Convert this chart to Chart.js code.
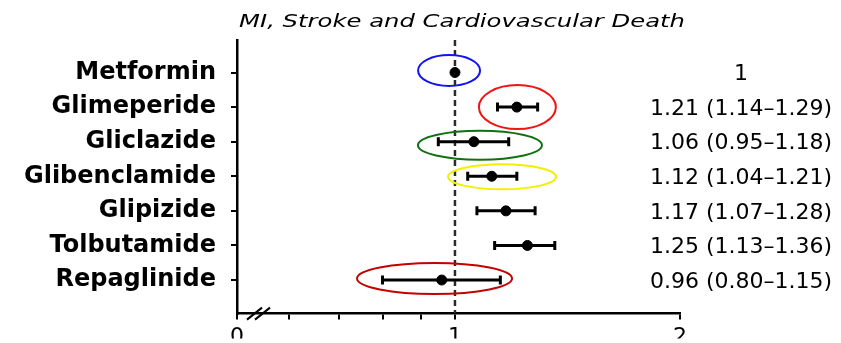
<!DOCTYPE html>
<html>
<head>
<meta charset="utf-8">
<script src="https://cdn.jsdelivr.net/npm/chart.js@4.4.1/dist/chart.umd.min.js"></script>
<style>
  html, body { margin: 0; padding: 0; background: #fff; overflow: hidden; }
</style>
</head>
<body>
<canvas id="myChart" width="841" height="343"></canvas>
<script>
// data
const drugs = ['Metformin', 'Glimeperide', 'Gliclazide', 'Glibenclamide', 'Glipizide', 'Tolbutamide', 'Repaglinide'];
const hazardRatio = [1, 1.21, 1.06, 1.12, 1.17, 1.25, 0.96];
const ciLow = [null, 1.14, 0.95, 1.04, 1.07, 1.13, 0.80];
const ciHigh = [null, 1.29, 1.18, 1.21, 1.28, 1.36, 1.15];
const effectLabels = ['1', '1.21 (1.14–1.29)', '1.06 (0.95–1.18)', '1.12 (1.04–1.21)', '1.17 (1.07–1.28)', '1.25 (1.13–1.36)', '0.96 (0.80–1.15)'];
const xTickValues = [0.511, 0.6, 0.7, 0.8, 0.9, 1, 2];
const xTickLabels = ['0', '', '', '', '', '1', '2'];
const refValue = 1;
const titleText = 'MI, Stroke and Cardiovascular Death';

// coloured rings drawn round some of the rows
const rings = [
    {row: 0, at: 0.982, dy: -2, rx: 31, ry: 15.5, color: '#1414f0'},
    {row: 1, at: 1.212, dy: 0, rx: 38.5, ry: 22, color: '#f01414'},
    {row: 2, at: 1.080, dy: 3.5, rx: 62, ry: 14.5, color: '#127012'},
    {row: 3, at: 1.156, dy: 0.5, rx: 54, ry: 12.5, color: '#f2f000'},
    {row: 6, at: 0.939, dy: -1.5, rx: 77.5, ry: 15.5, color: '#c40000'}
];

const yMin = -0.94;
const yMax = 6.97;
var ctx = document.getElementById('myChart').getContext('2d');

var datasets = [];

// the hazard ratio dots go first so they sit on top
datasets.push({
    data: hazardRatio.map((v, i) => ({x: v, y: i})),
    backgroundColor: '#000',
    borderColor: '#000',
    pointRadius: 5,
    pointStyle: 'circle'
});

hazardRatio.forEach((v, i) => {
    if (ciLow[i] == null) return;
    datasets.push({
        data: [{x: ciLow[i], y: i}, {x: ciHigh[i], y: i}],
        showLine: true,
        borderColor: '#000',
        borderWidth: 3,
        pointStyle: 'line',
        rotation: 90,
        pointRadius: 4.5,
        pointBorderWidth: 3,
        pointBorderColor: '#000'
    });
});

// dashed reference line at HR = 1
datasets.push({
    data: [{x: refValue, y: yMin}, {x: refValue, y: yMax}],
    showLine: true,
    borderColor: '#2a2a2a',
    borderWidth: 2.5,
    borderDash: [6, 4],
    pointRadius: 0
});

const overlay = {
    id: 'overlay',
    afterDraw(chart) {
        const c = chart.ctx;
        const area = chart.chartArea;
        const x = chart.scales.x;
        const y = chart.scales.y;
        c.save();
        c.fillStyle = '#000';
        c.textAlign = 'center';
        c.textBaseline = 'middle';

        // title, stretched sideways like the original
        c.save();
        c.font = 'italic 18px "DejaVu Sans"';
        c.translate(462, 22);
        c.scale(1.35, 1);
        c.fillText(titleText, 0, 0);
        c.restore();

        c.font = '22px "DejaVu Sans"';
        effectLabels.forEach((t, i) => {
            c.fillText(t, 741, y.getPixelForValue(i) + 2);
        });

        rings.forEach(r => {
            c.beginPath();
            c.ellipse(x.getPixelForValue(r.at), y.getPixelForValue(r.row) + r.dy, r.rx, r.ry, 0, 0, Math.PI * 2);
            c.strokeStyle = r.color;
            c.lineWidth = 2;
            c.stroke();
        });

        // axis break marks
        c.strokeStyle = '#000';
        c.lineWidth = 2;
        [10, 18].forEach(off => {
            c.beginPath();
            c.moveTo(area.left + off, area.bottom + 6);
            c.lineTo(area.left + off + 15, area.bottom - 6);
            c.stroke();
        });
        c.restore();
    }
};

var forestChart = new Chart(ctx, {
    type: 'scatter',
    data: {datasets: datasets},
    plugins: [overlay],
    options: {
        responsive: false,
        animation: false,
        layout: {padding: {top: 40, right: 161, left: 0, bottom: 0}},
        plugins: {legend: {display: false}, tooltip: {enabled: false}, title: {display: false}},
        scales: {
            x: {
                type: 'logarithmic',
                min: xTickValues[0],
                max: xTickValues[xTickValues.length - 1],
                bounds: 'data',
                afterBuildTicks: scale => {
                    scale.ticks = xTickValues.map(v => ({value: v}));
                },
                afterFit: scale => { scale.height = 25; },
                ticks: {
                    autoSkip: false,
                    maxRotation: 0,
                    padding: 4,
                    color: '#000',
                    font: {family: 'DejaVu Sans', size: 22},
                    callback: (v, i) => xTickLabels[i]
                },
                grid: {drawOnChartArea: false, drawTicks: true, tickLength: 6, color: '#000', lineWidth: 2},
                border: {display: true, color: '#000', width: 2.5}
            },
            y: {
                type: 'linear',
                reverse: true,
                min: yMin,
                max: yMax,
                bounds: 'data',
                afterBuildTicks: scale => {
                    scale.ticks = drugs.map((d, i) => ({value: i}));
                },
                afterFit: scale => { scale.width = 237; },
                ticks: {
                    autoSkip: false,
                    padding: 15,
                    color: '#000',
                    font: {family: 'DejaVu Sans', size: 24, weight: 'bold'},
                    callback: v => drugs[v]
                },
                grid: {drawOnChartArea: false, drawTicks: true, tickLength: 6, color: '#000', lineWidth: 2},
                border: {display: true, color: '#000', width: 2.5}
            }
        }
    }
});
</script>
</body>
</html>
